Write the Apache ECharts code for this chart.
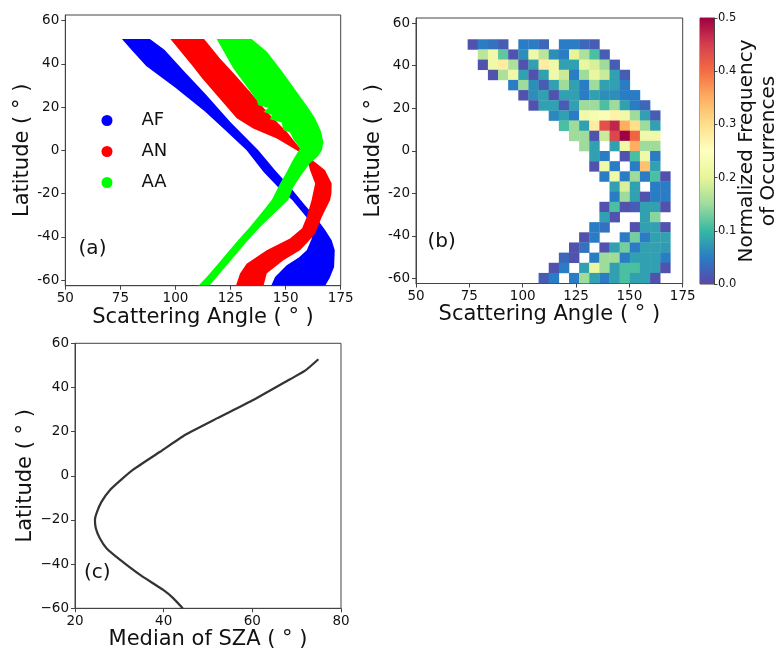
<!DOCTYPE html>
<html><head><meta charset="utf-8">
<script src="https://cdn.jsdelivr.net/npm/echarts@6/dist/echarts.min.js"></script>
<style>html,body{margin:0;padding:0;background:#fff}#c{width:777px;height:652px}</style>
</head><body><div id="c"></div>
<script>
// ---------- Panel (a): outlines of the three point clouds, [scattering angle, latitude] ----------
const afOutline = [[75.7,51.5],[88.4,51.5],[95,46.5],[104,36.5],[113.4,26.3],[125,13],[137.6,0],[145,-9],[152,-17],[158.5,-25],[164.1,-31.5],[168,-37],[170.9,-41.6],[172.3,-46.2],[172,-53.9],[170,-59],[168,-62.5],
  [143.5,-62.5],[145.2,-58.6],[150.5,-53.1],[156,-49.5],[159.6,-46.2],[161.8,-41],[161.5,-36.5],[159.6,-31],[153,-23],[147.5,-18],[140,-10],[132.3,0],[123,9],[113.4,18],[100,29],[86.7,39],[80.5,46]];
const anOutline = [[97.7,51.5],[113,51.5],[120.2,42.5],[127,35],[133.8,27.1],[137.6,22.5],[142.9,16.3],[150.5,8.6],[156.5,1],[160,-3],[164,-6],[167.9,-9.2],[170.9,-15.3],[170.8,-20],[170.2,-23],[166.4,-30.8],[163.4,-38.5],[160,-42.5],[156.5,-46.2],[149,-50.8],[141.4,-57],[140,-62.5],
  [127.5,-62.5],[129.3,-57],[132.3,-52.4],[141.4,-46.2],[152,-40.8],[157.5,-36],[159.6,-30.8],[161.8,-23],[163.4,-15.3],[161.1,-9.2],[159.5,-3],[155,0],[146,5.5],[135.3,10.1],[127.8,14.8],[112,33.5],[107.5,39.4]];
const aaOutline = [[118.7,51.5],[134.6,51.5],[141.4,45.7],[148,37],[155,27.1],[160,20],[163.3,15],[166,9],[167.1,4],[166.5,0],[164.5,-3],[161,-6],[156.5,-12.3],[153.5,-16.9],[151.2,-23],[145,-29],[138.4,-35.4],[133,-41.5],[127.8,-47.7],[123,-53.5],[118.7,-58.6],[115.5,-62.5],
  [110.5,-62.5],[114.2,-58.6],[118.5,-53.5],[123.3,-47.7],[128.5,-41.5],[133.8,-35.4],[139,-29],[143.7,-23],[147.5,-15.3],[150.5,-10],[153,-5],[156.5,0.9],[153.5,5.2],[152,8.3],[149,9.4],[148.2,12.9],[142.9,14.4],[143.7,16.3],[139.9,17.8],[142.2,19.7],[137.6,20.9],[136.9,23.2],[126.3,37.9]];
const groupNames = ['AF','AN','AA'];

// ---------- Panel (b): 2-D histogram (rows from north to south, 20 angle bins each) ----------
const angleBinStart = 74.2, angleBinWidth = 4.75;
const latBinTop = 52.4, latBinHeight = 4.775;
const _ = null;
const freqRows = [
  [0.01,0.05,0.04,0.02,_,0.05,0.05,0.03,_,0.05,0.05,0.03,0.02,_,_,_,_,_,_,_],
  [_,0.17,0.22,0.12,0.01,0.065,0.22,0.17,0.065,0.05,0.2,0.16,0.11,0.02,_,_,_,_,_,_],
  [_,0.01,0.22,0.28,0.16,0.01,0.08,0.28,0.22,0.08,0.08,0.21,0.19,0.15,0.02,_,_,_,_,_],
  [_,_,0.01,0.16,0.22,0.08,0.01,0.08,0.22,0.18,0.05,0.15,0.21,0.18,0.08,0.02,_,_,_,_],
  [_,_,_,_,0.05,0.15,0.065,0.02,0.08,0.15,0.08,0.05,0.15,0.08,0.08,0.05,_,_,_,_],
  [_,_,_,_,_,0.01,0.065,0.08,0.01,0.08,0.08,0.05,0.08,0.065,0.065,0.05,0.05,_,_,_],
  [_,_,_,_,_,_,0.01,0.08,0.08,0.02,0.08,0.15,0.15,0.11,0.15,0.08,0.05,0.03,_,_],
  [_,_,_,_,_,_,_,_,0.06,0.08,0.05,0.22,0.23,0.24,0.27,0.22,0.15,0.08,0.02,_],
  [_,_,_,_,_,_,_,_,_,0.11,0.15,0.08,0.28,0.43,0.47,0.35,0.3,0.15,0.08,_],
  [_,_,_,_,_,_,_,_,_,_,0.15,0.15,0.01,0.18,0.44,0.5,0.41,0.22,0.22,_],
  [_,_,_,_,_,_,_,_,_,_,_,0.15,0.08,_,0.08,0.22,0.35,0.15,0.15,_],
  [_,_,_,_,_,_,_,_,_,_,_,_,0.08,0.05,_,0.01,0.11,0.22,0.05,_],
  [_,_,_,_,_,_,_,_,_,_,_,_,0.01,0.22,0.05,_,0.05,0.33,0.08,_],
  [_,_,_,_,_,_,_,_,_,_,_,_,_,0.05,0.22,0.05,0.15,0.05,0.11,0.01],
  [_,_,_,_,_,_,_,_,_,_,_,_,_,_,0.08,0.19,0.08,_,0.05,0.05],
  [_,_,_,_,_,_,_,_,_,_,_,_,_,_,0.05,0.15,0.08,0.01,0.05,0.05],
  [_,_,_,_,_,_,_,_,_,_,_,_,_,0.01,0.11,0.01,0.02,0.08,0.08,0.01],
  [_,_,_,_,_,_,_,_,_,_,_,_,_,0.08,0.01,_,_,0.08,0.14,_],
  [_,_,_,_,_,_,_,_,_,_,_,_,0.05,0.04,_,_,0.01,0.08,0.08,0.01],
  [_,_,_,_,_,_,_,_,_,_,_,0.01,0.05,_,_,0.05,0.13,0.05,0.08,0.08],
  [_,_,_,_,_,_,_,_,_,_,0.01,0.04,_,0.01,0.08,0.13,0.05,0.08,0.08,0.075],
  [_,_,_,_,_,_,_,_,_,0.03,0.01,_,0.05,0.15,0.15,0.05,0.08,0.08,0.08,0.05],
  [_,_,_,_,_,_,_,_,0.01,0.05,_,0.08,0.21,0.15,0.08,0.11,0.11,0.08,0.08,0.01],
  [_,_,_,_,_,_,_,0.02,0.05,_,0.05,0.15,0.08,0.05,0.08,0.11,0.08,0.08,0.01,_]
];
const colorbarTicks = [0, 0.1, 0.2, 0.3, 0.4, 0.5];

// ---------- Panel (c): median SZA by latitude ----------
const szaMedian = [74.9,71.9,68.5,60.2,52.0,44.8,39.2,33.2,30.5,27.9,26.0,24.9,24.5,24.7,25.6,27.1,30.2,34.7,39.9,42.2,44.3];
const szaLat    = [52.8,47.6,43.7,34.3,26.0,18.5,10.9,2.9,-1.6,-6.4,-11.7,-16.7,-20,-23.8,-28.3,-32.8,-38.1,-44.9,-51.7,-55.5,-60];

const latTicks = [-60,-40,-20,0,20,40,60];

// ---------- build ----------
const FONT = 'DejaVu Sans';
const spectralR = ['#5a48a8','#2a7cc4','#35b8a2','#9fdc9c','#e6f598','#ffffbf','#fee08b','#fdae61','#f46d43','#d53e4f','#9e0142'];
const frame = '#444';

const heatData = [];
freqRows.forEach((row, r) => row.forEach((v, c) => {
  if (v === null) return;
  heatData.push([angleBinStart + (c + 0.5) * angleBinWidth, latBinTop - (r + 0.5) * latBinHeight, v]);
}));
const lineData = szaMedian.map((s, i) => [s, szaLat[i]]);

function axisBase(extra) {
  return Object.assign({
    type: 'value',
    axisLine: {show: true, onZero: false, lineStyle: {color: frame, width: 1}},
    axisTick: {show: true, length: 4, lineStyle: {color: frame, width: 1}},
    splitLine: {show: false},
    axisLabel: {color: '#111', fontFamily: FONT, fontSize: 13.5, margin: 6},
    nameTextStyle: {color: '#111', fontFamily: FONT, fontSize: 21},
    nameLocation: 'middle'
  }, extra);
}
const minus = v => (v < 0 ? '\u2212' + Math.abs(v) : String(v));

function polySeries(name, outline, color) {
  return {
    type: 'custom', name, xAxisIndex: 0, yAxisIndex: 0, silent: true,
    itemStyle: {color},
    data: outline,
    renderItem: (params, api) => {
      if (params.dataIndex !== 0) return null;
      const pts = outline.map(p => api.coord(p));
      return {type: 'polygon', shape: {points: pts}, style: {fill: color}};
    }
  };
}

const chart = echarts.init(document.getElementById('c'), null, {renderer: 'canvas'});
chart.setOption({
  animation: false,
  backgroundColor: '#fff',
  textStyle: {fontFamily: FONT},
  grid: [
    {left: 65.3, top: 15, width: 275.4, height: 270.7, show: true, borderColor: frame, borderWidth: 1},
    {left: 416, top: 18, width: 266.7, height: 265.5, show: true, borderColor: frame, borderWidth: 1},
    {left: 700, top: 18, width: 14, height: 266, show: true, borderColor: frame, borderWidth: 1},
    {left: 75, top: 343.3, width: 266, height: 265, show: true, borderColor: frame, borderWidth: 1}
  ],
  xAxis: [
    axisBase({gridIndex: 0, min: 50, max: 175, interval: 25, name: 'Scattering Angle ( \u00b0 )', nameGap: 19}),
    axisBase({gridIndex: 1, min: 50, max: 175, interval: 25, name: 'Scattering Angle ( \u00b0 )', nameGap: 17}),
    {gridIndex: 2, type: 'category', data: [''], show: false},
    axisBase({gridIndex: 3, min: 20, max: 80, interval: 20, name: 'Median of SZA ( \u00b0 )', nameGap: 17})
  ],
  yAxis: [
    axisBase({gridIndex: 0, min: -62.6, max: 62.6, name: 'Latitude ( \u00b0 )', nameGap: 29, nameRotate: 90,
      axisLabel: {color: '#111', fontFamily: FONT, fontSize: 13.5, margin: 6, customValues: latTicks},
      axisTick: {show: true, length: 4, lineStyle: {color: frame}, customValues: latTicks}}),
    axisBase({gridIndex: 1, min: -62.4, max: 62.4, name: 'Latitude ( \u00b0 )', nameGap: 23, nameRotate: 90,
      axisLabel: {color: '#111', fontFamily: FONT, fontSize: 13.5, margin: 6, customValues: latTicks},
      axisTick: {show: true, length: 4, lineStyle: {color: frame}, customValues: latTicks}}),
    axisBase({gridIndex: 2, min: 0, max: 0.5, interval: 0.1, position: 'right',
      axisLabel: {color: '#111', fontFamily: FONT, fontSize: 11.5, margin: 4, formatter: v => v.toFixed(1)},
      axisTick: {show: true, length: 3.5, lineStyle: {color: frame}}}),
    axisBase({gridIndex: 3, min: -60, max: 60, interval: 20, name: 'Latitude ( \u00b0 )', nameGap: 39, nameRotate: 90,
      axisLabel: {color: '#111', fontFamily: FONT, fontSize: 13.5, margin: 6, formatter: minus}})
  ],
  visualMap: [{type: 'continuous', show: false, seriesIndex: 3, dimension: 2, min: 0, max: 0.5, inRange: {color: spectralR}}],
  legend: {
    orient: 'vertical', left: 96.5, top: 105.5, icon: 'circle', itemWidth: 11, itemHeight: 11, itemGap: 11,
    selectedMode: false,
    textStyle: {fontFamily: FONT, fontSize: 18, color: '#111', padding: [0, 0, 0, 24], lineHeight: 20},
    data: [{name: 'AF', itemStyle: {color: '#0000ff'}}, {name: 'AN', itemStyle: {color: '#ff0000'}}, {name: 'AA', itemStyle: {color: '#00ff00'}}]
  },
  series: [
    polySeries(groupNames[0], afOutline, '#0000ff'),
    polySeries(groupNames[1], anOutline, '#ff0000'),
    polySeries(groupNames[2], aaOutline, '#00ff00'),
    {
      type: 'custom', name: 'freq', xAxisIndex: 1, yAxisIndex: 1, silent: true,
      data: heatData,
      encode: {x: 0, y: 1},
      renderItem: (params, api) => {
        const x = api.value(0), y = api.value(1);
        const p0 = api.coord([x - angleBinWidth / 2, y + latBinHeight / 2]);
        const p1 = api.coord([x + angleBinWidth / 2, y - latBinHeight / 2]);
        return {type: 'rect', shape: {x: p0[0], y: p0[1], width: p1[0] - p0[0] + 0.3, height: p1[1] - p0[1] + 0.3},
          style: {fill: api.visual('color')}};
      }
    },
    {
      type: 'bar', xAxisIndex: 2, yAxisIndex: 2, silent: true, barWidth: '100%',
      data: [colorbarTicks[colorbarTicks.length - 1]],
      itemStyle: {color: new echarts.graphic.LinearGradient(0, 1, 0, 0, spectralR.map((c, i) => ({offset: i / (spectralR.length - 1), color: c})))}
    },
    {
      type: 'line', xAxisIndex: 3, yAxisIndex: 3, silent: true, showSymbol: false,
      data: lineData, lineStyle: {color: '#333', width: 2.2}, smooth: 0.15
    }
  ],
  graphic: [
    {type: 'text', x: 92.5, y: 248.5, style: {text: '(a)', font: '20px "DejaVu Sans"', fill: '#111', textAlign: 'center', textVerticalAlign: 'middle'}},
    {type: 'text', x: 441.7, y: 241.7, style: {text: '(b)', font: '20px "DejaVu Sans"', fill: '#111', textAlign: 'center', textVerticalAlign: 'middle'}},
    {type: 'text', x: 97.2, y: 572.5, style: {text: '(c)', font: '20px "DejaVu Sans"', fill: '#111', textAlign: 'center', textVerticalAlign: 'middle'}},
    {type: 'text', x: 758, y: 151, rotation: Math.PI / 2,
      style: {text: 'Normalized Frequency\nof Occurrences', font: '20px "DejaVu Sans"', fill: '#111', textAlign: 'center', textVerticalAlign: 'middle', lineHeight: 22}}
  ]
});
</script></body></html>
